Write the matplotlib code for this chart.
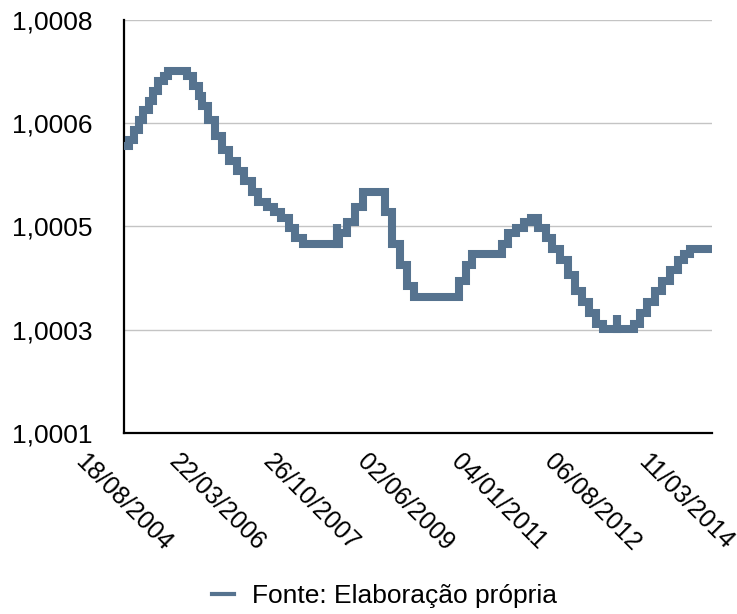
import matplotlib.pyplot as plt
import matplotlib.dates as mdates
from matplotlib.lines import Line2D
import pandas as pd

plt.rcParams['font.family'] = ['Liberation Sans', 'DejaVu Sans']

# daily factor: each value holds from its date until the next one
step_dates = [
    "2004-08-18", "2004-09-16", "2004-10-21", "2004-11-18", "2004-12-16",
    "2005-01-20", "2005-02-17", "2005-03-17", "2005-04-21", "2005-05-19",
    "2005-09-15", "2005-10-20", "2005-11-24", "2005-12-15", "2006-01-19",
    "2006-03-09", "2006-04-20", "2006-06-01", "2006-07-20", "2006-08-31",
    "2006-10-19", "2006-11-30", "2007-01-25", "2007-03-08", "2007-04-19",
    "2007-06-07", "2007-07-19", "2007-09-06", "2008-03-31", "2008-04-01",
    "2008-04-17", "2008-06-05", "2008-07-24", "2008-09-11", "2009-01-22",
    "2009-03-12", "2009-04-30", "2009-06-11", "2009-07-23", "2010-04-29",
    "2010-06-10", "2010-07-22", "2011-01-20", "2011-03-03", "2011-04-21",
    "2011-06-09", "2011-07-21", "2011-09-01", "2011-10-20", "2011-12-01",
    "2012-01-19", "2012-03-08", "2012-04-19", "2012-05-31", "2012-07-12",
    "2012-08-30", "2012-10-11", "2013-01-02", "2013-01-03", "2013-04-18",
    "2013-05-30", "2013-07-11", "2013-08-29", "2013-10-10", "2013-11-28",
    "2014-01-16", "2014-02-27", "2014-04-03",
]
factor = [
    1.000587, 1.000596, 1.000613, 1.000630, 1.000647,
    1.000663, 1.000680, 1.000697, 1.000705, 1.000713,
    1.000705, 1.000688, 1.000672, 1.000655, 1.000630,
    1.000604, 1.000579, 1.000561, 1.000544, 1.000527,
    1.000509, 1.000492, 1.000483, 1.000474, 1.000465,
    1.000448, 1.000430, 1.000421, 1.000455, 1.000421,
    1.000439, 1.000457, 1.000483, 1.000509, 1.000474,
    1.000421, 1.000385, 1.000349, 1.000331, 1.000358,
    1.000385, 1.000403, 1.000421, 1.000439, 1.000448,
    1.000457, 1.000465, 1.000448, 1.000430, 1.000412,
    1.000394, 1.000367, 1.000340, 1.000322, 1.000303,
    1.000285, 1.000276, 1.000300, 1.000276, 1.000285,
    1.000303, 1.000322, 1.000340, 1.000358, 1.000376,
    1.000394, 1.000403, 1.000412,
]
end_date = "2014-08-18"

tick_dates = ["2004-08-18", "2006-03-22", "2007-10-26", "2009-06-02",
              "2011-01-04", "2012-08-06", "2014-03-11"]
y_ticks = [1.0001, 1.000275, 1.00045, 1.000625, 1.0008]
y_labels = ["1,0001", "1,0003", "1,0005", "1,0006", "1,0008"]
series_name = "Fonte: Elaboração própria"

line_color = "#56738f"

x = pd.to_datetime(step_dates + [end_date])
y = factor + [factor[-1]]

fig = plt.figure(figsize=(7.37, 6.14), dpi=100)
ax = fig.add_axes([124 / 737, 1 - 433 / 614, 588 / 737, 413 / 614])

ax.plot(x, y, drawstyle='steps-post', color=line_color, linewidth=5.8,
        solid_joinstyle='miter', solid_capstyle='butt', zorder=3)

ax.set_xlim(pd.Timestamp(step_dates[0]), pd.Timestamp(end_date))
ax.set_ylim(y_ticks[0], y_ticks[-1])

ax.set_yticks(y_ticks)
ax.set_yticklabels(y_labels)
ax.set_xticks(pd.to_datetime(tick_dates))
ax.xaxis.set_major_formatter(mdates.DateFormatter('%d/%m/%Y'))

ax.grid(axis='y', color='#c4c4c4', linewidth=1.0)
ax.set_axisbelow(True)
ax.tick_params(length=0)
ax.tick_params(axis='y', pad=23, labelsize=19)
ax.tick_params(axis='x', pad=12, labelsize=18)
for lab in ax.get_xticklabels():
    lab.set_rotation(-45)
    lab.set_ha('center')
    lab.set_va('top')

for side in ['top', 'right']:
    ax.spines[side].set_visible(False)
for side in ['left', 'bottom']:
    ax.spines[side].set_linewidth(1.6)
    ax.spines[side].set_color('black')

handle = Line2D([], [], color=line_color, linewidth=3)
fig.legend([handle], [series_name], loc='center', bbox_to_anchor=(0.522, 0.029),
           frameon=False, fontsize=19, handlelength=0.8, handletextpad=0.7)

fig.savefig("out.png", dpi=100)
